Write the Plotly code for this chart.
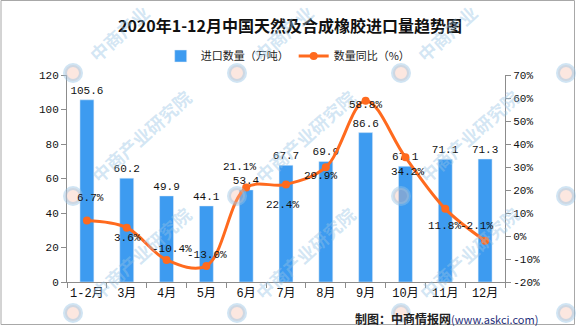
import plotly.graph_objects as go

# ---- data ----
categories = ["1-2月", "3月", "4月", "5月", "6月", "7月", "8月", "9月", "10月", "11月", "12月"]
import_volume = [105.6, 60.2, 49.9, 44.1, 53.4, 67.7, 69.9, 86.6, 67.1, 71.1, 71.3]
yoy_pct = [6.7, 3.6, -10.4, -13.0, 21.1, 22.4, 29.9, 58.8, 34.2, 11.8, -2.1]
left_ticks = [0, 20, 40, 60, 80, 100, 120]
right_ticks = [-20, -10, 0, 10, 20, 30, 40, 50, 60, 70]
watermark_text = "中商产业研究院"
watermark_text_top = "中商产业"

# ---- style: label offsets (px) for line labels ----
lbl_dx = [4, 1, 5, 1, -7, -4, -5, 0, 2, -1, -9]
lbl_dy = [-23, 10, -11, -11, -20, 21, 9, 4, 15, 17, -15]

W, H = 576, 326
ML, MR, MT, MB = 67, 71, 75, 44
PW, PH = W - ML - MR, H - MT - MB


def px(x):
    return (x - ML) / PW


def py(y):
    return (H - MB - y) / PH


NUM_FONT = "Liberation Mono, Noto Sans CJK SC"
CJK_FONT = "Noto Sans CJK SC"

fig = go.Figure()
fig.add_trace(go.Bar(
    x=categories, y=import_volume, name="进口数量（万吨）",
    marker_color="#3D9BF0", width=0.35,
    text=[f"{v:.1f}" for v in import_volume], textposition="outside",
    constraintext="none",
    textfont=dict(family=NUM_FONT, size=11, color="#111"),
    cliponaxis=False,
))
fig.add_trace(go.Scatter(
    x=categories, y=yoy_pct, name="数量同比（%）", yaxis="y2",
    mode="lines+markers",
    line=dict(color="#FF6A1E", width=3, shape="spline", smoothing=1),
    marker=dict(color="#FF6A1E", size=8),
    cliponaxis=False,
))

annotations = []
shapes = []
# watermarks (decorative)
wm_logo_cols = [73, 237, 401, 566]
wm_text_cols = [73, 237, 401]
wm_rows = [73, 196, 313]
wm_color = "rgba(150,195,228,0.42)"
for Y in wm_rows:
    for X in wm_logo_cols:
        shapes.append(dict(
            type="circle", xref="paper", yref="paper",
            x0=px(X - 8), x1=px(X + 8), y0=py(Y + 8), y1=py(Y - 8),
            line=dict(color="rgba(150,195,228,0.45)", width=4),
            fillcolor="rgba(245,185,165,0.35)", layer="above",
        ))
    for X in wm_text_cols:
        if Y == wm_rows[0]:
            txt, cx, cy = watermark_text_top, X + 46, Y - 40
        else:
            txt, cx, cy = watermark_text, X + 68, Y - 60
        annotations.append(dict(
            x=px(cx), y=py(cy), xref="paper", yref="paper",
            xanchor="center", yanchor="middle",
            text=f"<b>{txt}</b>", showarrow=False, textangle=-42,
            font=dict(family=CJK_FONT, size=18, color=wm_color),
        ))

for c, v, dx, dy in zip(categories, yoy_pct, lbl_dx, lbl_dy):
    annotations.append(dict(
        x=c, y=v, xref="x", yref="y2", text=f"{v:.1f}%", showarrow=False,
        xanchor="center", yanchor="middle",
        xshift=dx, yshift=-dy, font=dict(family=NUM_FONT, size=11, color="#111"),
    ))
annotations.append(dict(
    x=px(540), y=py(318), xref="paper", yref="paper",
    xanchor="right", yanchor="middle", showarrow=False,
    text="<b>制图：中商情报网</b><span style='color:#1f2f7a;font-size:11px'>(www.askci.com)</span>",
    font=dict(family=CJK_FONT, size=12, color="#222"),
))

shapes.append(dict(type="rect", xref="paper", yref="paper",
                   x0=px(1), x1=px(W - 1.5), y0=py(H - 1.5), y1=py(0.5),
                   line=dict(color="#a8a8a8", width=1), layer="below"))

axis_col = "#8c8c8c"
fig.update_layout(
    width=W, height=H,
    margin=dict(l=ML, r=MR, t=MT, b=MB),
    paper_bgcolor="white", plot_bgcolor="white",
    title=dict(text="<b>2020年1-12月中国天然及合成橡胶进口量趋势图</b>",
               x=290 / W, xanchor="center", y=1 - 26 / H, yanchor="middle",
               font=dict(family=CJK_FONT, size=16, color="#111")),
    legend=dict(orientation="h", x=0.505, xanchor="center",
                y=py(56), yanchor="middle",
                font=dict(family=CJK_FONT, size=11, color="#222"),
                bgcolor="rgba(0,0,0,0)"),
    xaxis=dict(type="category", range=[-0.5, len(categories) - 0.5],
               showline=True, linecolor=axis_col, linewidth=1,
               ticks="outside", tickson="boundaries", ticklen=5, tickcolor=axis_col,
               tickangle=0,
               tickfont=dict(family=NUM_FONT, size=12, color="#111"),
               showgrid=False, zeroline=False),
    yaxis=dict(range=[0, 120], tickvals=left_ticks,
               showline=True, linecolor=axis_col, linewidth=1,
               ticks="outside", ticklen=5, tickcolor=axis_col,
               tickfont=dict(family=NUM_FONT, size=11, color="#111"),
               showgrid=False, zeroline=False),
    yaxis2=dict(range=[-20, 70], tickvals=right_ticks,
                ticktext=[f"{v}%" for v in right_ticks],
                overlaying="y", side="right",
                showline=True, linecolor=axis_col, linewidth=1,
                ticks="outside", ticklen=5, tickcolor=axis_col,
                tickfont=dict(family=NUM_FONT, size=11, color="#111"),
                showgrid=False, zeroline=False),
    annotations=annotations,
    shapes=shapes,
    showlegend=True,
)

fig.write_html("out.html")
